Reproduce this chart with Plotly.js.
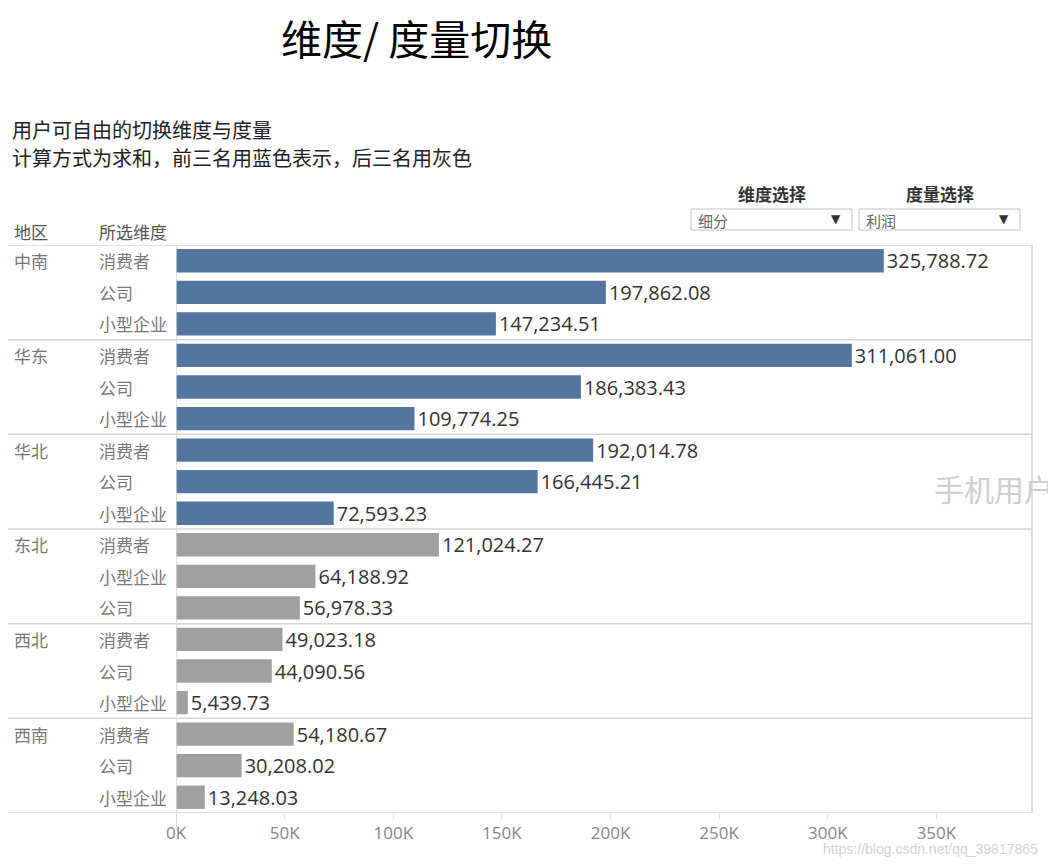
<!DOCTYPE html>
<html>
<head>
<meta charset="utf-8">
<script src="https://cdn.plot.ly/plotly-3.0.1.min.js"></script>
<style>html,body{margin:0;padding:0;background:#fff;}#chart{width:1048px;height:868px;}</style>
</head>
<body>
<div id="chart"></div>
<script>
// ---- data ----
const regions = ['中南', '华东', '华北', '东北', '西北', '西南'];
const rowRegion = ['中南','中南','中南','华东','华东','华东','华北','华北','华北','东北','东北','东北','西北','西北','西北','西南','西南','西南'];
const rowSegment = ['消费者','公司','小型企业','消费者','公司','小型企业','消费者','公司','小型企业','消费者','小型企业','公司','消费者','公司','小型企业','消费者','公司','小型企业'];
const rowProfit = [325788.72,197862.08,147234.51,311061.00,186383.43,109774.25,192014.78,166445.21,72593.23,121024.27,64188.92,56978.33,49023.18,44090.56,5439.73,54180.67,30208.02,13248.03];
const topRegions = ['中南', '华东', '华北'];
const tickValues = [0, 50000, 100000, 150000, 200000, 250000, 300000, 350000];
const tickLabels = ['0K', '50K', '100K', '150K', '200K', '250K', '300K', '350K'];

const W = 1048, H = 868;
const px = x => x / W;
const py = y => 1 - y / H;

const rowKeys = rowRegion.map((r, i) => r + '·' + rowSegment[i]);
const BLUE = '#5475a0', GRAY = '#a0a0a0';
const colors = rowRegion.map(r => topRegions.includes(r) ? BLUE : GRAY);

const trace = {
  type: 'bar',
  orientation: 'h',
  x: rowProfit,
  y: rowKeys,
  width: 0.74,
  marker: {color: colors, line: {width: 0}},
  texttemplate: '%{x:,.2f}',
  textposition: 'outside',
  constraintext: 'none',
  textfont: {family: 'Open Sans, sans-serif', size: 20, color: '#333'},
  cliponaxis: false,
  hoverinfo: 'skip'
};

const shapes = [];
const annotations = [];
const n = rowKeys.length;
// region separators
for (let k = 0; k <= regions.length; k++) {
  const yv = k * 3 - 0.5;
  shapes.push({type: 'line', xref: 'paper', yref: 'y', x0: px(8), x1: px(1032), y0: yv, y1: yv,
    line: {color: '#d6d6d6', width: 1.5}});
}
// right border
shapes.push({type: 'line', xref: 'paper', yref: 'y', x0: px(1032), x1: px(1032), y0: -0.5, y1: n - 0.5,
  line: {color: '#d6d6d6', width: 1.5}});
// zero line
shapes.push({type: 'line', xref: 'x', yref: 'paper', x0: 0, x1: 0, y0: py(830), y1: py(245),
  line: {color: '#d6d6d6', width: 1.5}});

// row labels
const cjk = 'Noto Sans CJK SC, sans-serif';
regions.forEach(r => {
  const idx = rowRegion.indexOf(r);
  annotations.push({xref: 'paper', yref: 'y', x: px(12), y: rowKeys[idx], xanchor: 'left', yanchor: 'middle',
    text: r, showarrow: false, font: {family: cjk, size: 17, color: '#777'}});
});
rowKeys.forEach((k, i) => {
  annotations.push({xref: 'paper', yref: 'y', x: px(97), y: k, xanchor: 'left', yanchor: 'middle',
    text: rowSegment[i], showarrow: false, font: {family: cjk, size: 17, color: '#777'}});
});
// headers
annotations.push({xref: 'paper', yref: 'paper', x: px(12), y: py(232), xanchor: 'left', yanchor: 'middle',
  text: '地区', showarrow: false, font: {family: cjk, size: 17, color: '#555'}});
annotations.push({xref: 'paper', yref: 'paper', x: px(97), y: py(232), xanchor: 'left', yanchor: 'middle',
  text: '所选维度', showarrow: false, font: {family: cjk, size: 17, color: '#555'}});
// title & subtitles
annotations.push({xref: 'paper', yref: 'paper', x: px(416), y: py(37), xanchor: 'center', yanchor: 'middle',
  text: '维度/ 度量切换', showarrow: false, font: {family: cjk, size: 41, color: '#000'}});
annotations.push({xref: 'paper', yref: 'paper', x: px(10), y: py(130), xanchor: 'left', yanchor: 'middle',
  text: '用户可自由的切换维度与度量', showarrow: false, font: {family: cjk, size: 20, color: '#222'}});
annotations.push({xref: 'paper', yref: 'paper', x: px(10), y: py(158), xanchor: 'left', yanchor: 'middle',
  text: '计算方式为求和，前三名用蓝色表示，后三名用灰色', showarrow: false, font: {family: cjk, size: 20, color: '#222'}});
// dropdown controls
const controls = [
  {label: '维度选择', value: '细分', x0: 691, x1: 852, cx: 772},
  {label: '度量选择', value: '利润', x0: 859, x1: 1020, cx: 940}
];
controls.forEach(c => {
  annotations.push({xref: 'paper', yref: 'paper', x: px(c.cx), y: py(193), xanchor: 'center', yanchor: 'middle',
    text: '<b>' + c.label + '</b>', showarrow: false, font: {family: cjk, size: 17, color: '#333'}});
  shapes.push({type: 'rect', xref: 'paper', yref: 'paper', x0: px(c.x0), x1: px(c.x1), y0: py(230), y1: py(209),
    line: {color: '#c4c4c4', width: 1}, fillcolor: '#fff'});
  annotations.push({xref: 'paper', yref: 'paper', x: px(c.x0 + 5), y: py(220), xanchor: 'left', yanchor: 'middle',
    text: c.value, showarrow: false, font: {family: cjk, size: 15, color: '#666'}});
  annotations.push({xref: 'paper', yref: 'paper', x: px(c.x1 - 16), y: py(219), xanchor: 'center', yanchor: 'middle',
    text: '▼', showarrow: false, font: {family: 'DejaVu Sans, sans-serif', size: 12, color: '#333'}});
});
// watermarks
annotations.push({xref: 'paper', yref: 'paper', x: px(932), y: py(488), xanchor: 'left', yanchor: 'middle',
  text: '手机用户', showarrow: false, font: {family: cjk, size: 30, color: '#cfcfcf'}});
annotations.push({xref: 'paper', yref: 'paper', x: px(1040), y: py(849), xanchor: 'right', yanchor: 'middle',
  text: 'https://blog.csdn.net/qq_39817865', showarrow: false, font: {family: 'Liberation Sans, sans-serif', size: 14, color: '#d4d4d4'}});

const layout = {
  width: W, height: H,
  margin: {l: 0, r: 0, t: 0, b: 0},
  paper_bgcolor: '#fff', plot_bgcolor: '#fff',
  showlegend: false,
  font: {family: 'Open Sans, sans-serif'},
  xaxis: {
    domain: [px(176), px(1032)],
    range: [0, 394000],
    tickvals: tickValues, ticktext: tickLabels,
    showgrid: false, zeroline: false, showline: false,
    ticks: 'outside', ticklen: 5, tickcolor: '#e2e2e2', tickwidth: 1,
    tickfont: {family: 'Open Sans, sans-serif', size: 17, color: '#888'},
    fixedrange: true
  },
  yaxis: {
    domain: [py(813), py(245)],
    type: 'category',
    categoryorder: 'array', categoryarray: rowKeys,
    range: [n - 0.5, -0.5],
    showticklabels: false, showgrid: false, zeroline: false, showline: false, ticks: '',
    fixedrange: true
  },
  shapes: shapes,
  annotations: annotations
};

Plotly.newPlot('chart', [trace], layout, {displayModeBar: false, staticPlot: true});
</script>
</body>
</html>
